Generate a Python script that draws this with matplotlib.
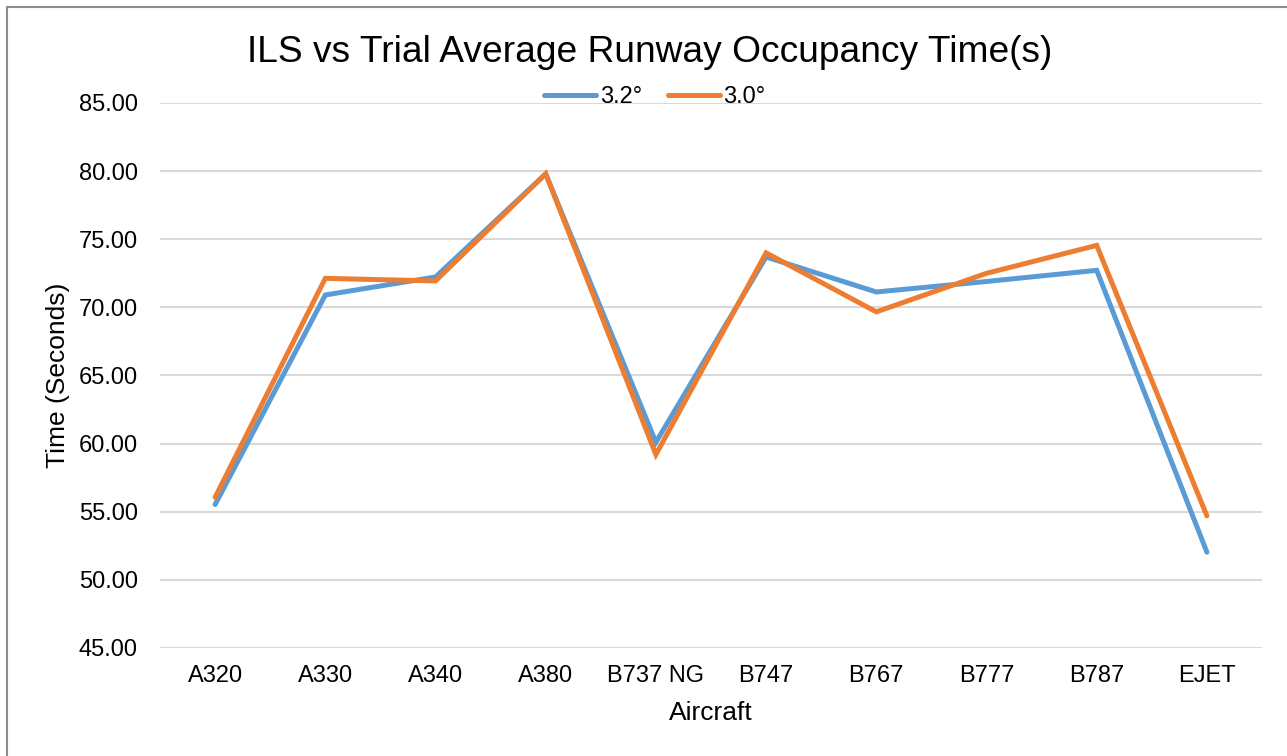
import matplotlib.pyplot as plt
import numpy as np
from matplotlib.patches import Rectangle

plt.rcParams['font.family'] = ['Liberation Sans', 'DejaVu Sans']

# データ
aircraft = ['A320', 'A330', 'A340', 'A380', 'B737 NG', 'B747', 'B767', 'B777', 'B787', 'EJET']
ils_32 = [55.53, 70.91, 72.23, 79.8, 60.1, 73.7, 71.13, 71.9, 72.72, 52.03]
ils_30 = [56.06, 72.13, 71.94, 79.8, 59.2, 74.0, 69.67, 72.5, 74.55, 54.7]
series_labels = ['3.2°', '3.0°']
y_ticks = np.arange(45, 86, 5)

W, H = 1287, 756
fig = plt.figure(figsize=(W / 100, H / 100), dpi=100)
ax = fig.add_axes([160 / W, 1 - 648 / H, (1262 - 160) / W, (648 - 103) / H])

x = np.arange(len(aircraft))
l1, = ax.plot(x, ils_32, color='#5B9BD5', lw=3.6, solid_capstyle='round', solid_joinstyle='miter', zorder=3)
l2, = ax.plot(x, ils_30, color='#ED7D31', lw=3.6, solid_capstyle='round', solid_joinstyle='miter', zorder=4)

ax.set_xlim(-0.5, len(aircraft) - 0.5)
ax.set_ylim(45, 85)
ax.set_yticks(y_ticks)
ax.set_yticklabels([f'{v:.2f}' for v in y_ticks])
ax.set_xticks(x)
ax.set_xticklabels(aircraft)
ax.tick_params(length=0, labelsize=17, pad=12)
ax.tick_params(axis='y', pad=16)
ax.grid(axis='y', color='#D9D9D9', lw=1.5)
ax.set_axisbelow(True)
for s in ax.spines.values():
    s.set_visible(False)

ax.set_xlabel('Aircraft', fontsize=19, labelpad=10)
ax.set_ylabel('Time (Seconds)', fontsize=19, labelpad=6)

fig.text(650 / W, 1 - 52 / H, 'ILS vs Trial Average Runway Occupancy Time(s)',
         ha='center', va='center', fontsize=26.7)

fig.legend([l1, l2], series_labels, loc='center', bbox_to_anchor=(655 / W, 1 - 97 / H),
           ncol=2, frameon=False, fontsize=17, handlelength=2.2, handletextpad=0.15,
           columnspacing=1.1, borderpad=0)

# 外枠 (上と左だけ見える)
fig.patches.append(Rectangle((7 / W, -0.1), 1.2, 1.1 - 7 / H, transform=fig.transFigure,
                             fill=False, edgecolor='#8C8C8C', lw=1.5))

fig.savefig('out.png', dpi=100)
plt.close()
